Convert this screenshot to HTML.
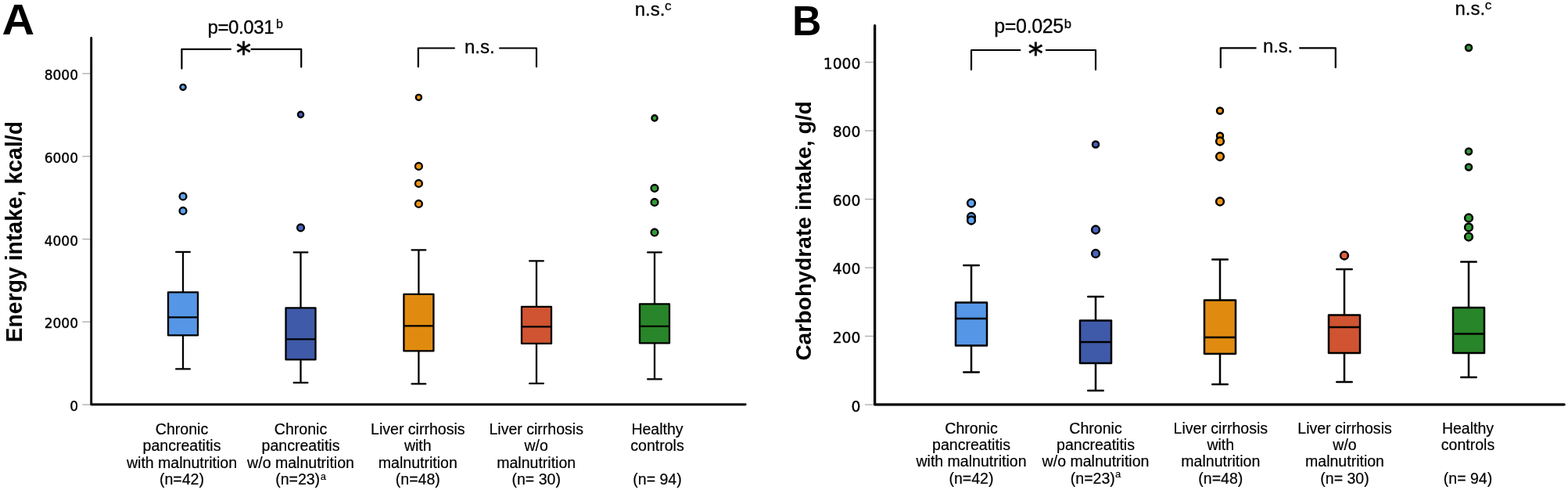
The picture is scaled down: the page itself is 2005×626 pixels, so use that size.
<!DOCTYPE html>
<html lang="en"><head><meta charset="utf-8"><title>Energy and carbohydrate intake</title>
<style>
html,body{margin:0;padding:0;background:#fff;}
body{width:2005px;height:626px;overflow:hidden;}
svg{display:block;}
text{font-family:"Liberation Sans",Arial,Helvetica,sans-serif;fill:#000;}
.pl{font-weight:bold;}
.yt{font-weight:bold;text-anchor:middle;}
.tk{font-family:"DejaVu Sans","Liberation Sans",sans-serif;text-anchor:end;stroke:#000;stroke-width:0.4px;}
.xl{font-size:19.55px;text-anchor:middle;stroke:#000;stroke-width:0.2px;}
.an{font-size:24.0px;letter-spacing:-0.35px;stroke:#000;stroke-width:0.3px;}
.sup{font-size:16px;letter-spacing:0;stroke-width:0.25px;}
.xs{font-size:13px;stroke-width:0.15px;}
.st{font-family:"DejaVu Sans","Liberation Sans",sans-serif;font-size:38px;text-anchor:middle;stroke:#000;stroke-width:0.8px;}
</style></head><body>
<svg width="2005" height="626" viewBox="0 0 2005 626">
<rect width="2005" height="626" fill="#fff"/>

<g id="panel-A">
<text class="pl" style="font-size:55.4px" transform="translate(2.4 43.8) scale(1.04 1)">A</text>
<text class="yt" style="font-size:28.4px" transform="translate(28.1 296.2) rotate(-90) scale(1 1.065)">Energy intake, kcal/d</text>
<path d="M105.3 94H116.7" stroke="#b0b0b0" stroke-width="1.4"/>
<text class="tk" style="font-size:17px" x="100.0" y="102.3">8000</text>
<path d="M105.3 199.75H116.7" stroke="#b0b0b0" stroke-width="1.4"/>
<text class="tk" style="font-size:17px" x="100.0" y="207.65">6000</text>
<path d="M105.3 305.5H116.7" stroke="#b0b0b0" stroke-width="1.4"/>
<text class="tk" style="font-size:17px" x="100.0" y="313.9">4000</text>
<path d="M105.3 411.2H116.7" stroke="#b0b0b0" stroke-width="1.4"/>
<text class="tk" style="font-size:17px" x="100.0" y="419.0">2000</text>
<path d="M105.3 517H116.7" stroke="#b0b0b0" stroke-width="1.4"/>
<text class="tk" style="font-size:17px" x="100.0" y="525.4">0</text>
<path d="M116.7 48.45V516.8H953.15" stroke="#000" stroke-width="2.9" fill="none" stroke-linejoin="round" stroke-linecap="round"/>
<path d="M234 321.9V373.4M234 428.4V471.4M225.15 321.9H242.85M225.15 471.4H242.85" stroke="#000" stroke-width="2.3" stroke-linecap="round" fill="none"/><rect x="215.0" y="373.4" width="38" height="55.0" fill="#5596e6" stroke="#000" stroke-width="2.3" stroke-linejoin="round"/><path d="M215.0 405.4H253.0" stroke="#000" stroke-width="2.3"/>
<circle cx="234" cy="111.4" r="3.6" fill="#5ea3f0" stroke="#000" stroke-width="2.35"/><circle cx="234" cy="250.9" r="4.4" fill="#5ea3f0" stroke="#000" stroke-width="2.35"/><circle cx="234" cy="269.4" r="4.4" fill="#5ea3f0" stroke="#000" stroke-width="2.35"/>
<path d="M384.5 322.4V393.4M384.5 459.4V488.9M375.65 322.4H393.35M375.65 488.9H393.35" stroke="#000" stroke-width="2.3" stroke-linecap="round" fill="none"/><rect x="365.5" y="393.4" width="38" height="66.0" fill="#3f5aa9" stroke="#000" stroke-width="2.3" stroke-linejoin="round"/><path d="M365.5 433.4H403.5" stroke="#000" stroke-width="2.3"/>
<circle cx="384.5" cy="146.4" r="3.6" fill="#4865bd" stroke="#000" stroke-width="2.35"/><circle cx="384.5" cy="290.9" r="4.4" fill="#4865bd" stroke="#000" stroke-width="2.35"/>
<path d="M535.4 319.4V375.9M535.4 448.4V490.4M526.55 319.4H544.25M526.55 490.4H544.25" stroke="#000" stroke-width="2.3" stroke-linecap="round" fill="none"/><rect x="516.4" y="375.9" width="38" height="72.5" fill="#e08b10" stroke="#000" stroke-width="2.3" stroke-linejoin="round"/><path d="M516.4 416.4H554.4" stroke="#000" stroke-width="2.3"/>
<circle cx="535.4" cy="124.4" r="3.6" fill="#ee9616" stroke="#000" stroke-width="2.35"/><circle cx="535.4" cy="212.4" r="4.4" fill="#ee9616" stroke="#000" stroke-width="2.35"/><circle cx="535.4" cy="234.4" r="4.4" fill="#ee9616" stroke="#000" stroke-width="2.35"/><circle cx="535.4" cy="260.4" r="4.4" fill="#ee9616" stroke="#000" stroke-width="2.35"/>
<path d="M686 333.4V391.9M686 438.9V489.9M677.15 333.4H694.85M677.15 489.9H694.85" stroke="#000" stroke-width="2.3" stroke-linecap="round" fill="none"/><rect x="667.0" y="391.9" width="38" height="47.0" fill="#d05431" stroke="#000" stroke-width="2.3" stroke-linejoin="round"/><path d="M667.0 417.4H705.0" stroke="#000" stroke-width="2.3"/>

<path d="M837 322.4V388.4M837 438.4V484.4M828.15 322.4H845.85M828.15 484.4H845.85" stroke="#000" stroke-width="2.3" stroke-linecap="round" fill="none"/><rect x="818.0" y="388.4" width="38" height="50.0" fill="#298529" stroke="#000" stroke-width="2.3" stroke-linejoin="round"/><path d="M818.0 416.9H856.0" stroke="#000" stroke-width="2.3"/>
<circle cx="837" cy="150.9" r="3.6" fill="#319c33" stroke="#000" stroke-width="2.35"/><circle cx="837" cy="240.4" r="4.4" fill="#319c33" stroke="#000" stroke-width="2.35"/><circle cx="837" cy="258.4" r="4.4" fill="#319c33" stroke="#000" stroke-width="2.35"/><circle cx="837" cy="296.9" r="4.4" fill="#319c33" stroke="#000" stroke-width="2.35"/>
<path d="M232.4 87.6V62.8H294.9M321.5 62.8H385.2V85.6" stroke="#000" stroke-width="2.2" stroke-linecap="round" stroke-linejoin="round" fill="none"/>
<path d="M534.8 85.3V61.5H580.9M639.1 61.5H686V85.3" stroke="#000" stroke-width="2.2" stroke-linecap="round" stroke-linejoin="round" fill="none"/>
<text class="an" x="265.4" y="42.9">p=0.031<tspan class="sup" dy="-7.0" dx="2.6">b</tspan></text>
<text class="st" x="311.4" y="81.4">*</text>
<text class="an" style="letter-spacing:0px" x="594" y="68">n.s.</text>
<text class="an" style="letter-spacing:0px" x="811.7" y="20.3">n.s.<tspan class="sup" style="font-size:17px" dy="-7.0" dx="-0.5">c</tspan></text>
<text class="xl" x="232.5" y="555.0">Chronic</text>
<text class="xl" x="232.5" y="576.37">pancreatitis</text>
<text class="xl" x="232.5" y="597.74">with malnutrition</text>
<text class="xl" x="232.5" y="619.11">(n=42)</text>
<text class="xl" x="384.5" y="555.0">Chronic</text>
<text class="xl" x="384.5" y="576.37">pancreatitis</text>
<text class="xl" x="384.5" y="597.74">w/o malnutrition</text>
<text class="xl" x="384.5" y="619.11">(n=23)<tspan class="xs" dy="-6.3" dx="0.5">a</tspan></text>
<text class="xl" x="534.3" y="555.0">Liver cirrhosis</text>
<text class="xl" x="534.3" y="576.37">with</text>
<text class="xl" x="534.3" y="597.74">malnutrition</text>
<text class="xl" x="534.3" y="619.11">(n=48)</text>
<text class="xl" x="685.7" y="555.0">Liver cirrhosis</text>
<text class="xl" x="685.7" y="576.37">w/o</text>
<text class="xl" x="685.7" y="597.74">malnutrition</text>
<text class="xl" x="685.7" y="619.11">(n= 30)</text>
<text class="xl" x="840.5" y="555.0">Healthy</text>
<text class="xl" x="840.5" y="576.37">controls</text>
<text class="xl" x="840.5" y="619.11">(n= 94)</text>
</g>
<g id="panel-B">
<text class="pl" style="font-size:54.2px" transform="translate(1013 45) scale(0.955 1)">B</text>
<text class="yt" style="font-size:28.3px" transform="translate(1037 295) rotate(-90) scale(1 0.995)">Carbohydrate intake, g/d</text>
<path d="M1106.0 79.5H1118.6" stroke="#b0b0b0" stroke-width="1.4"/>
<text class="tk" style="font-size:18.7px" x="1100.4" y="88.25">1000</text>
<path d="M1106.0 167H1118.6" stroke="#b0b0b0" stroke-width="1.4"/>
<text class="tk" style="font-size:18.7px" x="1100.4" y="175.0">800</text>
<path d="M1106.0 254.5H1118.6" stroke="#b0b0b0" stroke-width="1.4"/>
<text class="tk" style="font-size:18.7px" x="1100.4" y="262.8">600</text>
<path d="M1106.0 342H1118.6" stroke="#b0b0b0" stroke-width="1.4"/>
<text class="tk" style="font-size:18.7px" x="1100.4" y="350.3">400</text>
<path d="M1106.0 429.5H1118.6" stroke="#b0b0b0" stroke-width="1.4"/>
<text class="tk" style="font-size:18.7px" x="1100.4" y="437.6">200</text>
<path d="M1106.0 517H1118.6" stroke="#b0b0b0" stroke-width="1.4"/>
<text class="tk" style="font-size:18.7px" x="1100.4" y="525.6">0</text>
<path d="M1118.6 32.65V516.8H2000.1499999999999" stroke="#000" stroke-width="3.3" fill="none" stroke-linejoin="round" stroke-linecap="round"/>
<path d="M1242 339.0V386.5M1242 441.5V475.5M1232.25 339.0H1251.75M1232.25 475.5H1251.75" stroke="#000" stroke-width="2.5" stroke-linecap="round" fill="none"/><rect x="1222.0" y="386.5" width="40" height="55.0" fill="#5596e6" stroke="#000" stroke-width="2.5" stroke-linejoin="round"/><path d="M1222.0 407.0H1262.0" stroke="#000" stroke-width="2.5"/>
<circle cx="1242" cy="259.5" r="4.9" fill="#5ea3f0" stroke="#000" stroke-width="2.5"/><circle cx="1242" cy="277.0" r="4.9" fill="#5ea3f0" stroke="#000" stroke-width="2.5"/><circle cx="1242" cy="281.5" r="4.9" fill="#5ea3f0" stroke="#000" stroke-width="2.5"/>
<path d="M1401 379.0V409.5M1401 464.0V499.0M1391.25 379.0H1410.75M1391.25 499.0H1410.75" stroke="#000" stroke-width="2.5" stroke-linecap="round" fill="none"/><rect x="1381.0" y="409.5" width="40" height="54.5" fill="#3f5aa9" stroke="#000" stroke-width="2.5" stroke-linejoin="round"/><path d="M1381.0 437.0H1421.0" stroke="#000" stroke-width="2.5"/>
<circle cx="1401" cy="184.5" r="4.0" fill="#4865bd" stroke="#000" stroke-width="2.5"/><circle cx="1401" cy="293.5" r="4.9" fill="#4865bd" stroke="#000" stroke-width="2.5"/><circle cx="1401" cy="324.0" r="4.9" fill="#4865bd" stroke="#000" stroke-width="2.5"/>
<path d="M1560 331.5V383.5M1560 452.0V491.0M1550.25 331.5H1569.75M1550.25 491.0H1569.75" stroke="#000" stroke-width="2.5" stroke-linecap="round" fill="none"/><rect x="1540.0" y="383.5" width="40" height="68.5" fill="#e08b10" stroke="#000" stroke-width="2.5" stroke-linejoin="round"/><path d="M1540.0 431.0H1580.0" stroke="#000" stroke-width="2.5"/>
<circle cx="1560" cy="141.5" r="4.0" fill="#ee9616" stroke="#000" stroke-width="2.5"/><circle cx="1560" cy="173.5" r="4.0" fill="#ee9616" stroke="#000" stroke-width="2.5"/><circle cx="1560" cy="180.5" r="4.9" fill="#ee9616" stroke="#000" stroke-width="2.5"/><circle cx="1560" cy="200.0" r="4.9" fill="#ee9616" stroke="#000" stroke-width="2.5"/><circle cx="1560" cy="257.5" r="4.9" fill="#ee9616" stroke="#000" stroke-width="2.5"/>
<path d="M1719 344.0V402.5M1719 451.0V488.0M1709.25 344.0H1728.75M1709.25 488.0H1728.75" stroke="#000" stroke-width="2.5" stroke-linecap="round" fill="none"/><rect x="1699.0" y="402.5" width="40" height="48.5" fill="#d05431" stroke="#000" stroke-width="2.5" stroke-linejoin="round"/><path d="M1699.0 418.0H1739.0" stroke="#000" stroke-width="2.5"/>
<circle cx="1719" cy="326.5" r="4.9" fill="#e35e3e" stroke="#000" stroke-width="2.5"/>
<path d="M1878 334.5V393.0M1878 451.0V482.0M1868.25 334.5H1887.75M1868.25 482.0H1887.75" stroke="#000" stroke-width="2.5" stroke-linecap="round" fill="none"/><rect x="1858.0" y="393.0" width="40" height="58.0" fill="#298529" stroke="#000" stroke-width="2.5" stroke-linejoin="round"/><path d="M1858.0 426.5H1898.0" stroke="#000" stroke-width="2.5"/>
<circle cx="1878" cy="61.0" r="4.0" fill="#319c33" stroke="#000" stroke-width="2.5"/><circle cx="1878" cy="193.5" r="4.0" fill="#319c33" stroke="#000" stroke-width="2.5"/><circle cx="1878" cy="213.5" r="4.0" fill="#319c33" stroke="#000" stroke-width="2.5"/><circle cx="1878" cy="278.5" r="4.9" fill="#319c33" stroke="#000" stroke-width="2.5"/><circle cx="1878" cy="290.4" r="4.9" fill="#319c33" stroke="#000" stroke-width="2.5"/><circle cx="1878" cy="302.5" r="4.9" fill="#319c33" stroke="#000" stroke-width="2.5"/>
<path d="M1242 88.9V64H1304.4M1337.8 64H1401V88.9" stroke="#000" stroke-width="2.2" stroke-linecap="round" stroke-linejoin="round" fill="none"/>
<path d="M1560.8 86.2V61.3H1605.7M1662.1 61.3H1707.8V86.2" stroke="#000" stroke-width="2.2" stroke-linecap="round" stroke-linejoin="round" fill="none"/>
<text class="an" style="font-size:25px" x="1271.3" y="42.4">p=0.025<tspan class="sup" style="font-size:16.6px" dy="-6.4" dx="0.8">b</tspan></text>
<text class="st" x="1324.3" y="81.8">*</text>
<text class="an" style="letter-spacing:-0.15px" x="1615" y="67">n.s.</text>
<text class="an" style="letter-spacing:0px" x="1860.5" y="19.1">n.s.<tspan class="sup" style="font-size:17px" dy="-7.0" dx="-0.5">c</tspan></text>
<text class="xl" x="1242" y="554.0">Chronic</text>
<text class="xl" x="1242" y="575.2">pancreatitis</text>
<text class="xl" x="1242" y="596.4">with malnutrition</text>
<text class="xl" x="1242" y="617.6">(n=42)</text>
<text class="xl" x="1401" y="554.0">Chronic</text>
<text class="xl" x="1401" y="575.2">pancreatitis</text>
<text class="xl" x="1401" y="596.4">w/o malnutrition</text>
<text class="xl" x="1401" y="617.6">(n=23)<tspan class="xs" dy="-7.3" dx="0.2">a</tspan></text>
<text class="xl" x="1560.8" y="554.0">Liver cirrhosis</text>
<text class="xl" x="1560.8" y="575.2">with</text>
<text class="xl" x="1560.8" y="596.4">malnutrition</text>
<text class="xl" x="1560.8" y="617.6">(n=48)</text>
<text class="xl" x="1719.5" y="554.0">Liver cirrhosis</text>
<text class="xl" x="1719.5" y="575.2">w/o</text>
<text class="xl" x="1719.5" y="596.4">malnutrition</text>
<text class="xl" x="1719.5" y="617.6">(n= 30)</text>
<text class="xl" x="1877" y="554.0">Healthy</text>
<text class="xl" x="1877" y="575.2">controls</text>
<text class="xl" x="1877" y="617.6">(n= 94)</text>
</g>
</svg>
</body></html>
